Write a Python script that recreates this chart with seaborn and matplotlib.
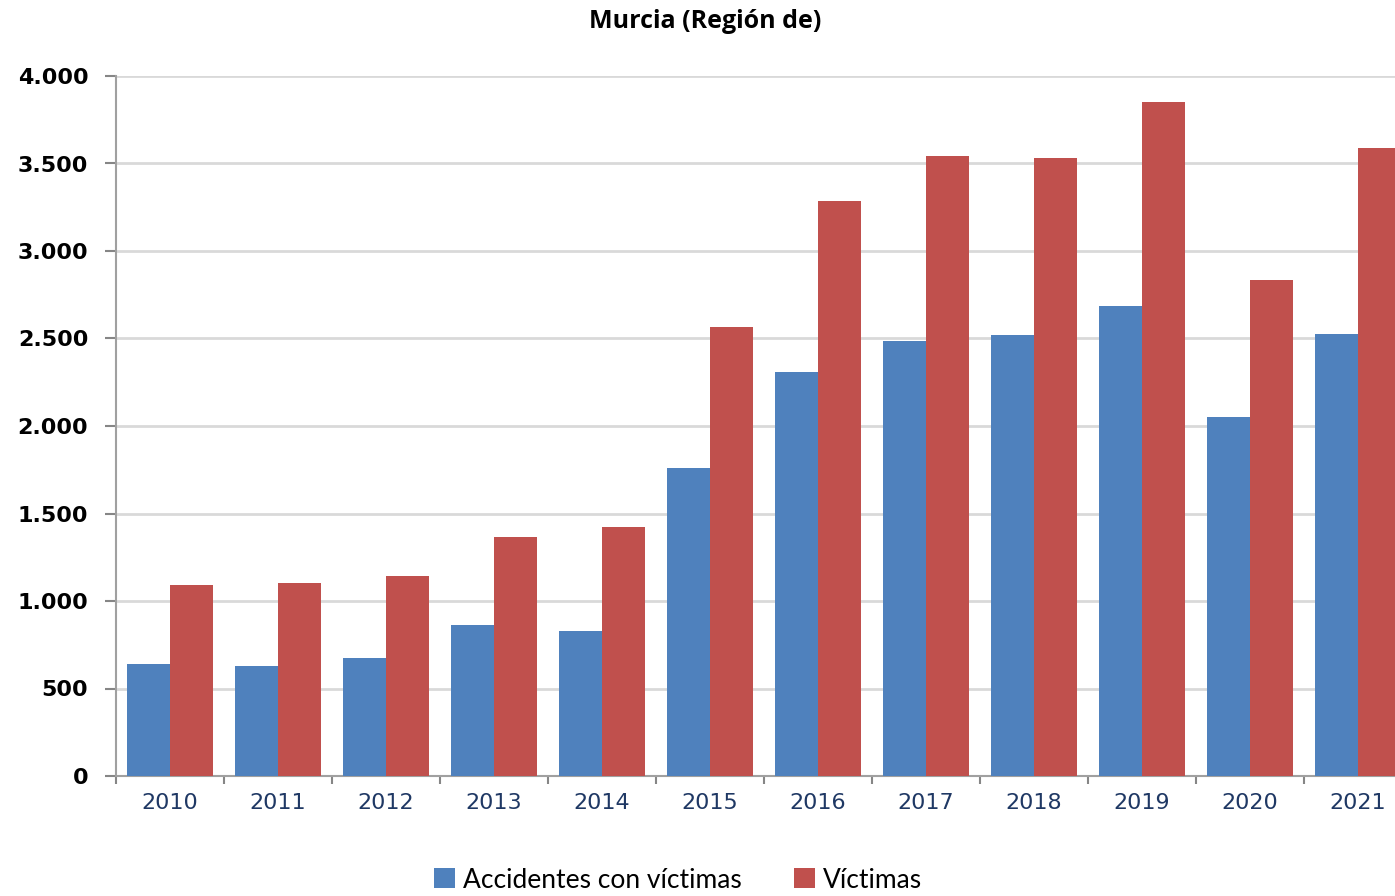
"""Accidentes con víctimas y víctimas, Murcia (Región de), 2010-2021."""

import matplotlib.pyplot as plt
import pandas as pd
import seaborn as sns
from matplotlib.ticker import FuncFormatter, MultipleLocator

sns.set_theme(style="white")
plt.rcParams["text.color"] = "black"

YEARS = ["2010", "2011", "2012", "2013", "2014", "2015",
         "2016", "2017", "2018", "2019", "2020", "2021"]
ACCIDENTES = [640, 629, 674, 863, 829, 1760, 2309, 2486, 2520, 2686, 2051, 2526]
VICTIMAS = [1091, 1103, 1143, 1366, 1423, 2566, 3286, 3543, 3531, 3851, 2834, 3589]
SERIES = ["Accidentes con víctimas", "Víctimas"]
COLORS = ["#4F81BD", "#C0504D"]


def main() -> None:
    df = pd.DataFrame({
        "year": YEARS * 2,
        "value": ACCIDENTES + VICTIMAS,
        "serie": [SERIES[0]] * len(YEARS) + [SERIES[1]] * len(YEARS),
    })

    fig = plt.figure(figsize=(13.95, 8.96), dpi=100)
    ax = fig.add_axes([116 / 1395, 120 / 896, 1296 / 1395, 700 / 896])

    sns.barplot(data=df, x="year", y="value", hue="serie", palette=COLORS,
                width=0.8, linewidth=0, saturation=1, ax=ax, zorder=3)

    ax.set_xlim(-0.5, len(YEARS) - 0.5)
    ax.set_ylim(0, 4000)
    ax.yaxis.set_major_locator(MultipleLocator(500))
    ax.yaxis.set_major_formatter(FuncFormatter(lambda v, _: f"{int(v):,}".replace(",", ".")))
    ax.grid(axis="y", color="#D9D9D9", linewidth=2, zorder=0)
    ax.set_axisbelow(True)

    # category boundary ticks on x
    ax.set_xticks([i - 0.5 for i in range(len(YEARS) + 1)], minor=False)
    ax.set_xticklabels([""] * (len(YEARS) + 1))
    ax.set_xticks(range(len(YEARS)), minor=True)
    ax.set_xticklabels(YEARS, minor=True)
    ax.tick_params(axis="x", which="major", direction="out", length=6, width=1.5,
                   color="#868686", bottom=True)
    ax.tick_params(axis="x", which="minor", length=0, pad=12, labelsize=16,
                   labelcolor="#1F3864")
    ax.tick_params(axis="y", direction="out", length=8, width=1.5, color="#868686",
                   left=True, pad=12)
    for lab in ax.get_yticklabels():
        lab.set_fontweight("bold")
        lab.set_fontsize(16)
        lab.set_color("black")

    for side in ["top", "right"]:
        ax.spines[side].set_visible(False)
    for side in ["left", "bottom"]:
        ax.spines[side].set_color("#A0A0A0")
        ax.spines[side].set_linewidth(1.5)
    ax.set_xlabel("")
    ax.set_ylabel("")

    fig.text(705 / 1395, 1 - 21 / 896, "Murcia (Región de)", ha="center", va="center",
             fontsize=18, fontweight="bold", family="Open Sans", color="black")

    handles, labels = ax.get_legend_handles_labels()
    ax.get_legend().remove()
    leg = fig.legend(handles, labels, loc="center", bbox_to_anchor=(678 / 1395, 1 - 880 / 896),
                     ncol=2, frameon=False, prop={"family": "Lato", "size": 19},
                     handlelength=0.8, handleheight=0.8, handletextpad=0.3, columnspacing=2.0)
    for t in leg.get_texts():
        t.set_color("black")

    fig.savefig("out.png", dpi=100)
    plt.close(fig)


if __name__ == "__main__":
    main()
